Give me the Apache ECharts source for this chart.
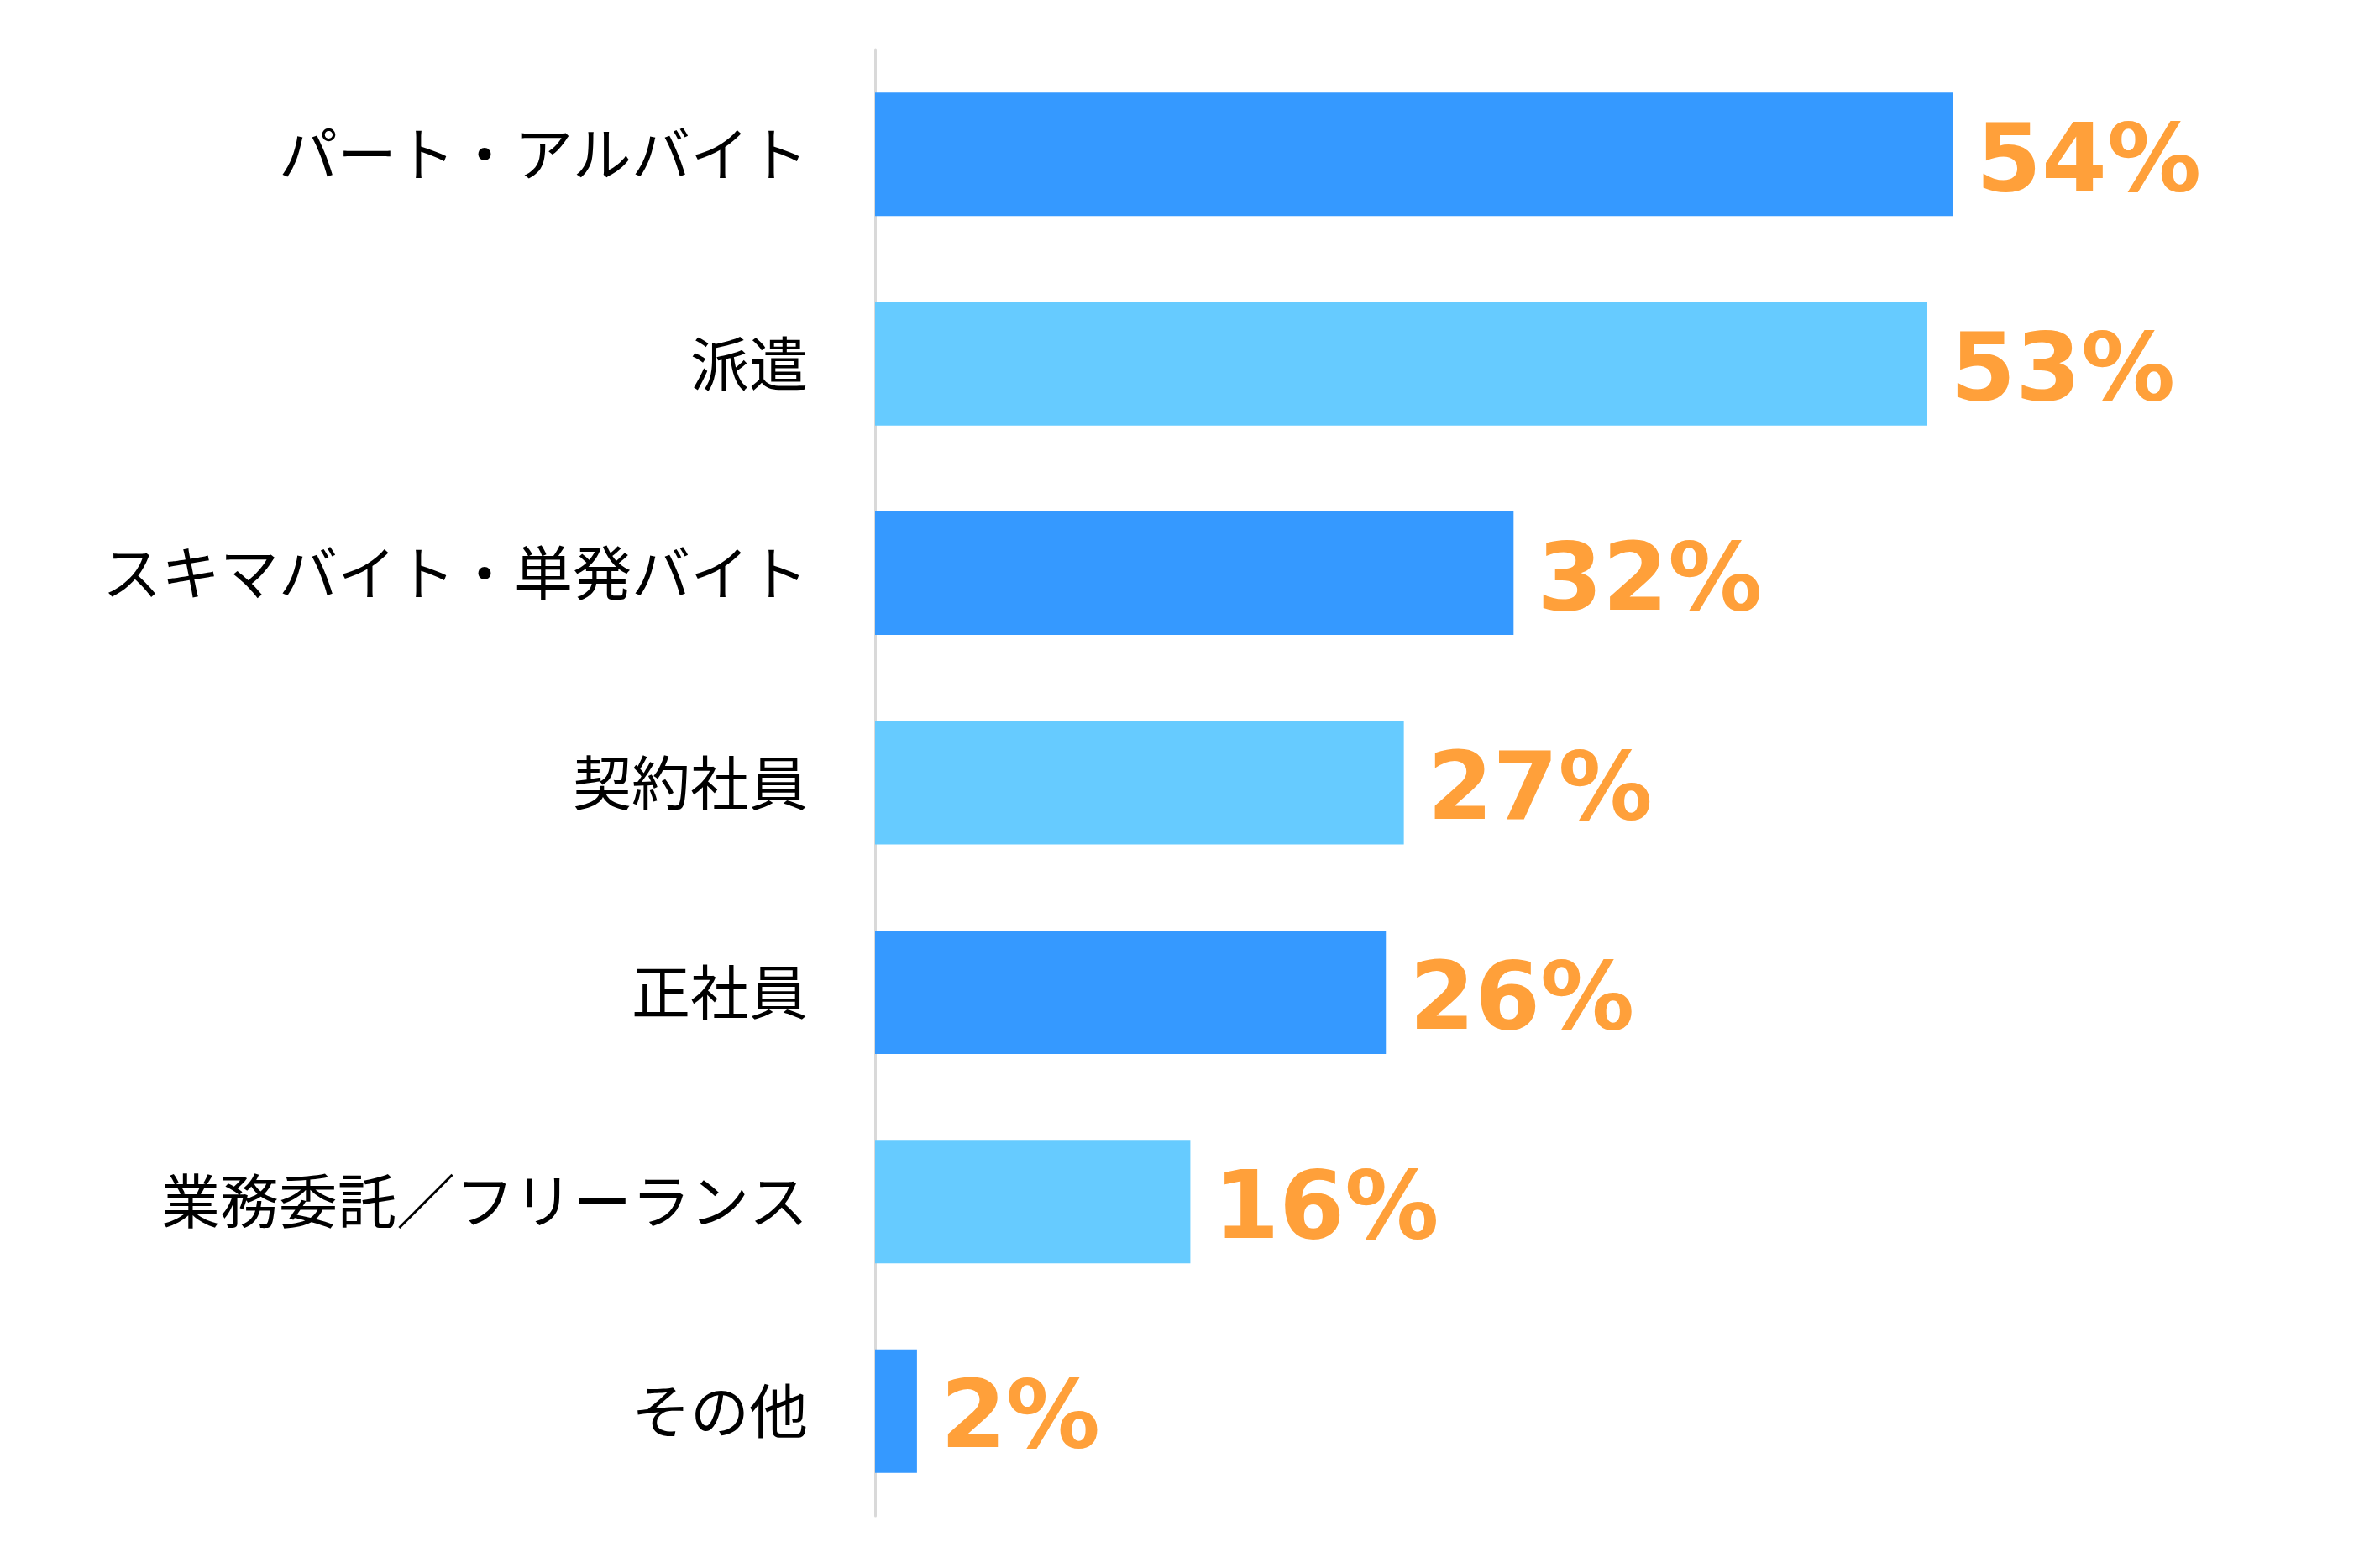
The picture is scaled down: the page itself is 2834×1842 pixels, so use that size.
<!DOCTYPE html>
<html>
<head>
<meta charset="utf-8">
<title>chart</title>
<script src="https://cdn.jsdelivr.net/npm/echarts@6/dist/echarts.min.js"></script>
<style>
html,body{margin:0;padding:0;background:#fff;}
#main{width:2834px;height:1842px;}
</style>
</head>
<body>
<div id="main"></div>
<script>
//カテゴリ
var categories = ['パート・アルバイト', '派遣', 'スキマバイト・単発バイト', '契約社員', '正社員', '業務委託／フリーランス', 'その他'];
//割合（%）
var values = [54.0, 52.7, 32.0, 26.5, 25.6, 15.8, 2.1];
//棒の色（交互）
var barColors = ['#3599ff', '#66cbff', '#3599ff', '#66cbff', '#3599ff', '#66cbff', '#3599ff'];

var seriesData = [];
for(var i = 0; i < values.length; i++) {
	seriesData.push({
		value: values[i],
		itemStyle: { color: barColors[i] }
	});
}

var option = {
	backgroundColor: '#fff',
	animation: false,
	grid: {
		left: 1042,
		top: 59,
		bottom: 37,
		width: 1425.6
	},
	xAxis: {
		type: 'value',
		min: 0,
		max: 60,
		show: false
	},
	yAxis: {
		type: 'category',
		inverse: true,
		data: categories,
		axisTick: { show: false },
		axisLine: {
			show: true,
			lineStyle: { color: '#d9d9d9', width: 3 }
		},
		axisLabel: {
			margin: 80,
			color: '#000',
			fontSize: 70,
			fontFamily: 'Noto Sans CJK JP'
		}
	},
	series: [{
		type: 'bar',
		data: seriesData,
		barWidth: 147,
		label: {
			show: true,
			position: 'right',
			distance: 28,
			offset: [0, 14],
			color: '#ffa03a',
			fontSize: 112,
			fontWeight: 'bold',
			fontFamily: 'DejaVu Sans',
			formatter: function(p) {
				return Math.round(p.value) + '%';
			}
		}
	}]
};
var myChart = echarts.init(document.getElementById('main'));
myChart.setOption(option);
</script>
</body>
</html>
